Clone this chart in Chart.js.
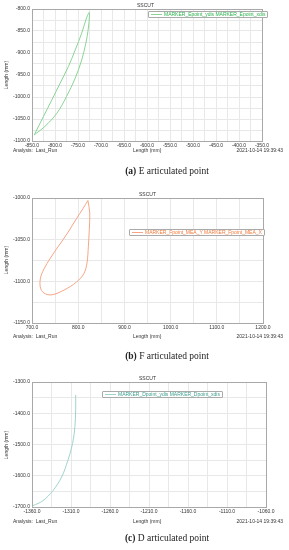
<!DOCTYPE html>
<html>
<head>
<meta charset="utf-8">
<script src="https://cdn.jsdelivr.net/npm/chart.js@4.4.0/dist/chart.umd.min.js"></script>
<style>
body{margin:0;background:#fff;}
#page{position:relative;width:289px;height:550px;overflow:hidden;background:#fff;}
canvas{position:absolute;left:0;}
.t{position:absolute;font:5px 'Liberation Sans',Arial,sans-serif;color:#333;white-space:nowrap;line-height:6px;}
.ytitle{position:absolute;font:5px 'Liberation Sans',Arial,sans-serif;color:#333;white-space:nowrap;transform:translate(-50%,-50%) rotate(-90deg);}
.cap{position:absolute;left:67px;width:200px;text-align:center;font:9.5px 'Liberation Serif','DejaVu Serif',serif;color:#222;}
.legend{position:absolute;border:1px solid #aaa;border-radius:1px;background:#fff;font:5px 'Liberation Sans',Arial,sans-serif;white-space:nowrap;line-height:5px;padding:0 2px 0 2px;}
.legend span.ln{display:inline-block;width:11px;height:0;border-top:1px solid;vertical-align:middle;margin-right:2px;}
</style>
</head>
<body>
<div id="page">
  <canvas id="chartE" width="289" height="150" style="top:0"></canvas>
  <canvas id="chartF" width="289" height="145" style="top:190px"></canvas>
  <canvas id="chartD" width="289" height="145" style="top:375px"></canvas>

  <!-- (a) -->
  <div class="t" style="left:137px;top:2px">SSCUT</div>
  <div class="ytitle" style="left:6px;top:75px">Length (mm)</div>
  <div class="legend" style="left:148px;top:11px;color:#2bb24c"><span class="ln" style="border-color:#8ad495"></span>MARKER_Epoint_ydis MARKER_Epoint_xdis</div>
  <div class="t" style="left:13px;top:147px">Analysis:&nbsp; Last_Run</div>
  <div class="t" style="left:133px;top:147px">Length (mm)</div>
  <div class="t" style="right:6px;top:147px">2021-10-14 19:39:43</div>
  <div class="cap" style="top:166px"><b>(a)</b> E articulated point</div>

  <!-- (b) -->
  <div class="t" style="left:139px;top:191px">SSCUT</div>
  <div class="ytitle" style="left:6px;top:260px">Length (mm)</div>
  <div class="legend" style="left:129px;top:229px;color:#f07a3c"><span class="ln" style="border-color:#f5a585"></span>MARKER_Fpoint_MEA_Y MARKER_Fpoint_MEA_X</div>
  <div class="t" style="left:13px;top:333px">Analysis:&nbsp; Last_Run</div>
  <div class="t" style="left:133px;top:333px">Length (mm)</div>
  <div class="t" style="right:6px;top:333px">2021-10-14 19:39:43</div>
  <div class="cap" style="top:351px"><b>(b)</b> F articulated point</div>

  <!-- (c) -->
  <div class="t" style="left:139px;top:375px">SSCUT</div>
  <div class="ytitle" style="left:6px;top:445px">Length (mm)</div>
  <div class="legend" style="left:102px;top:391px;color:#3c9d8e"><span class="ln" style="border-color:#9fd3ca"></span>MARKER_Dpoint_ydis MARKER_Dpoint_xdis</div>
  <div class="t" style="left:13px;top:518px">Analysis:&nbsp; Last_Run</div>
  <div class="t" style="left:133px;top:518px">Length (mm)</div>
  <div class="t" style="right:6px;top:518px">2021-10-14 19:39:43</div>
  <div class="cap" style="top:533px"><b>(c)</b> D articulated point</div>
</div>

<script>
// (a) E point loop
const eX = [-845, -825, -807, -789, -771, -756, -742, -733, -726, -725, -728, -733, -742, -756, -775, -796, -822, -840, -845];
const eY = [-1086, -1044, -1007, -969, -931, -893, -855, -825, -808, -814, -848, -878, -916, -957, -999, -1037, -1067, -1082, -1086];
const eXTicks = [-850, -800, -750, -700, -650, -600, -550, -500, -450, -400, -350];
const eYTicks = [-1100, -1050, -1000, -950, -900, -850, -800];

// (b) F point loop
const fX = [821, 825, 824, 822, 819, 812, 796, 771, 745, 729, 719, 718, 726, 740, 757, 777, 796, 810, 821];
const fY = [-1003, -1018, -1038, -1058, -1078, -1091, -1101, -1110, -1116, -1115, -1109, -1097, -1085, -1072, -1058, -1042, -1025, -1013, -1003];
const fXTicks = [700, 800, 900, 1000, 1100, 1200];
const fYTicks = [-1150, -1100, -1050, -1000];

// (c) D point curve
const dX = [-1304, -1304, -1305, -1308, -1314, -1322, -1333, -1346, -1359];
const dY = [-1341, -1389, -1443, -1497, -1551, -1604, -1647, -1680, -1696];
const dXTicks = [-1360, -1310, -1260, -1210, -1160, -1110, -1060];
const dYTicks = [-1700, -1600, -1500, -1400, -1300];

const frame = {
  id: 'frame',
  beforeDatasetsDraw(chart){
    const ctx = chart.ctx, a = chart.chartArea;
    ctx.save();
    ctx.strokeStyle = '#a8a8a8';
    ctx.lineWidth = 1;
    ctx.strokeRect(Math.round(a.left)+0.5, Math.round(a.top)+0.5, Math.round(a.right-a.left), Math.round(a.bottom-a.top));
    ctx.restore();
  }
};

const tickFont = {family: "'Liberation Sans', Arial, sans-serif", size: 5};

function makeChart(id, xs, ys, color, xTicks, yTicks, xStep, yStep, padTop, padRight, xAxisH){
  const pts = xs.map((x, i) => ({x: x, y: ys[i]}));
  new Chart(document.getElementById(id), {
    type: 'scatter',
    data: {
      datasets: [{
        data: pts,
        showLine: true,
        borderColor: color,
        borderWidth: 1,
        pointRadius: 0,
        tension: 0.35,
        fill: false
      }]
    },
    options: {
      responsive: false,
      animation: false,
      devicePixelRatio: 1,
      layout: {padding: {left: 0, top: padTop, right: padRight, bottom: 0}, autoPadding: false},
      plugins: {legend: {display: false}, tooltip: {enabled: false}, title: {display: false}},
      scales: {
        x: {
          type: 'linear',
          min: xTicks[0],
          max: xTicks[xTicks.length-1],
          afterFit: s => { s.height = xAxisH; },
          border: {display: false},
          grid: {color: '#e8e8e8', lineWidth: 1, drawTicks: false},
          ticks: {
            stepSize: xStep, autoSkip: false, maxRotation: 0, padding: 2,
            font: tickFont, color: '#333',
            callback: v => xTicks.includes(v) ? v.toFixed(1) : ''
          }
        },
        y: {
          type: 'linear',
          min: yTicks[0],
          max: yTicks[yTicks.length-1],
          afterFit: s => { s.width = 32; },
          border: {display: false},
          grid: {color: '#e8e8e8', lineWidth: 1, drawTicks: false},
          ticks: {
            stepSize: yStep, autoSkip: false, padding: 2,
            font: tickFont, color: '#333',
            callback: v => yTicks.includes(v) ? v.toFixed(1) : ''
          }
        }
      }
    },
    plugins: [frame]
  });
}

makeChart('chartE', eX, eY, '#8ad495', eXTicks, eYTicks, 25, 25, 9, 27, 9);
makeChart('chartF', fX, fY, '#f5a585', fXTicks, fYTicks, 50, 25, 8, 26, 12);
makeChart('chartD', dX, dY, '#9fd3ca', dXTicks, dYTicks, 25, 50, 7, 23, 13);
</script>
</body>
</html>
